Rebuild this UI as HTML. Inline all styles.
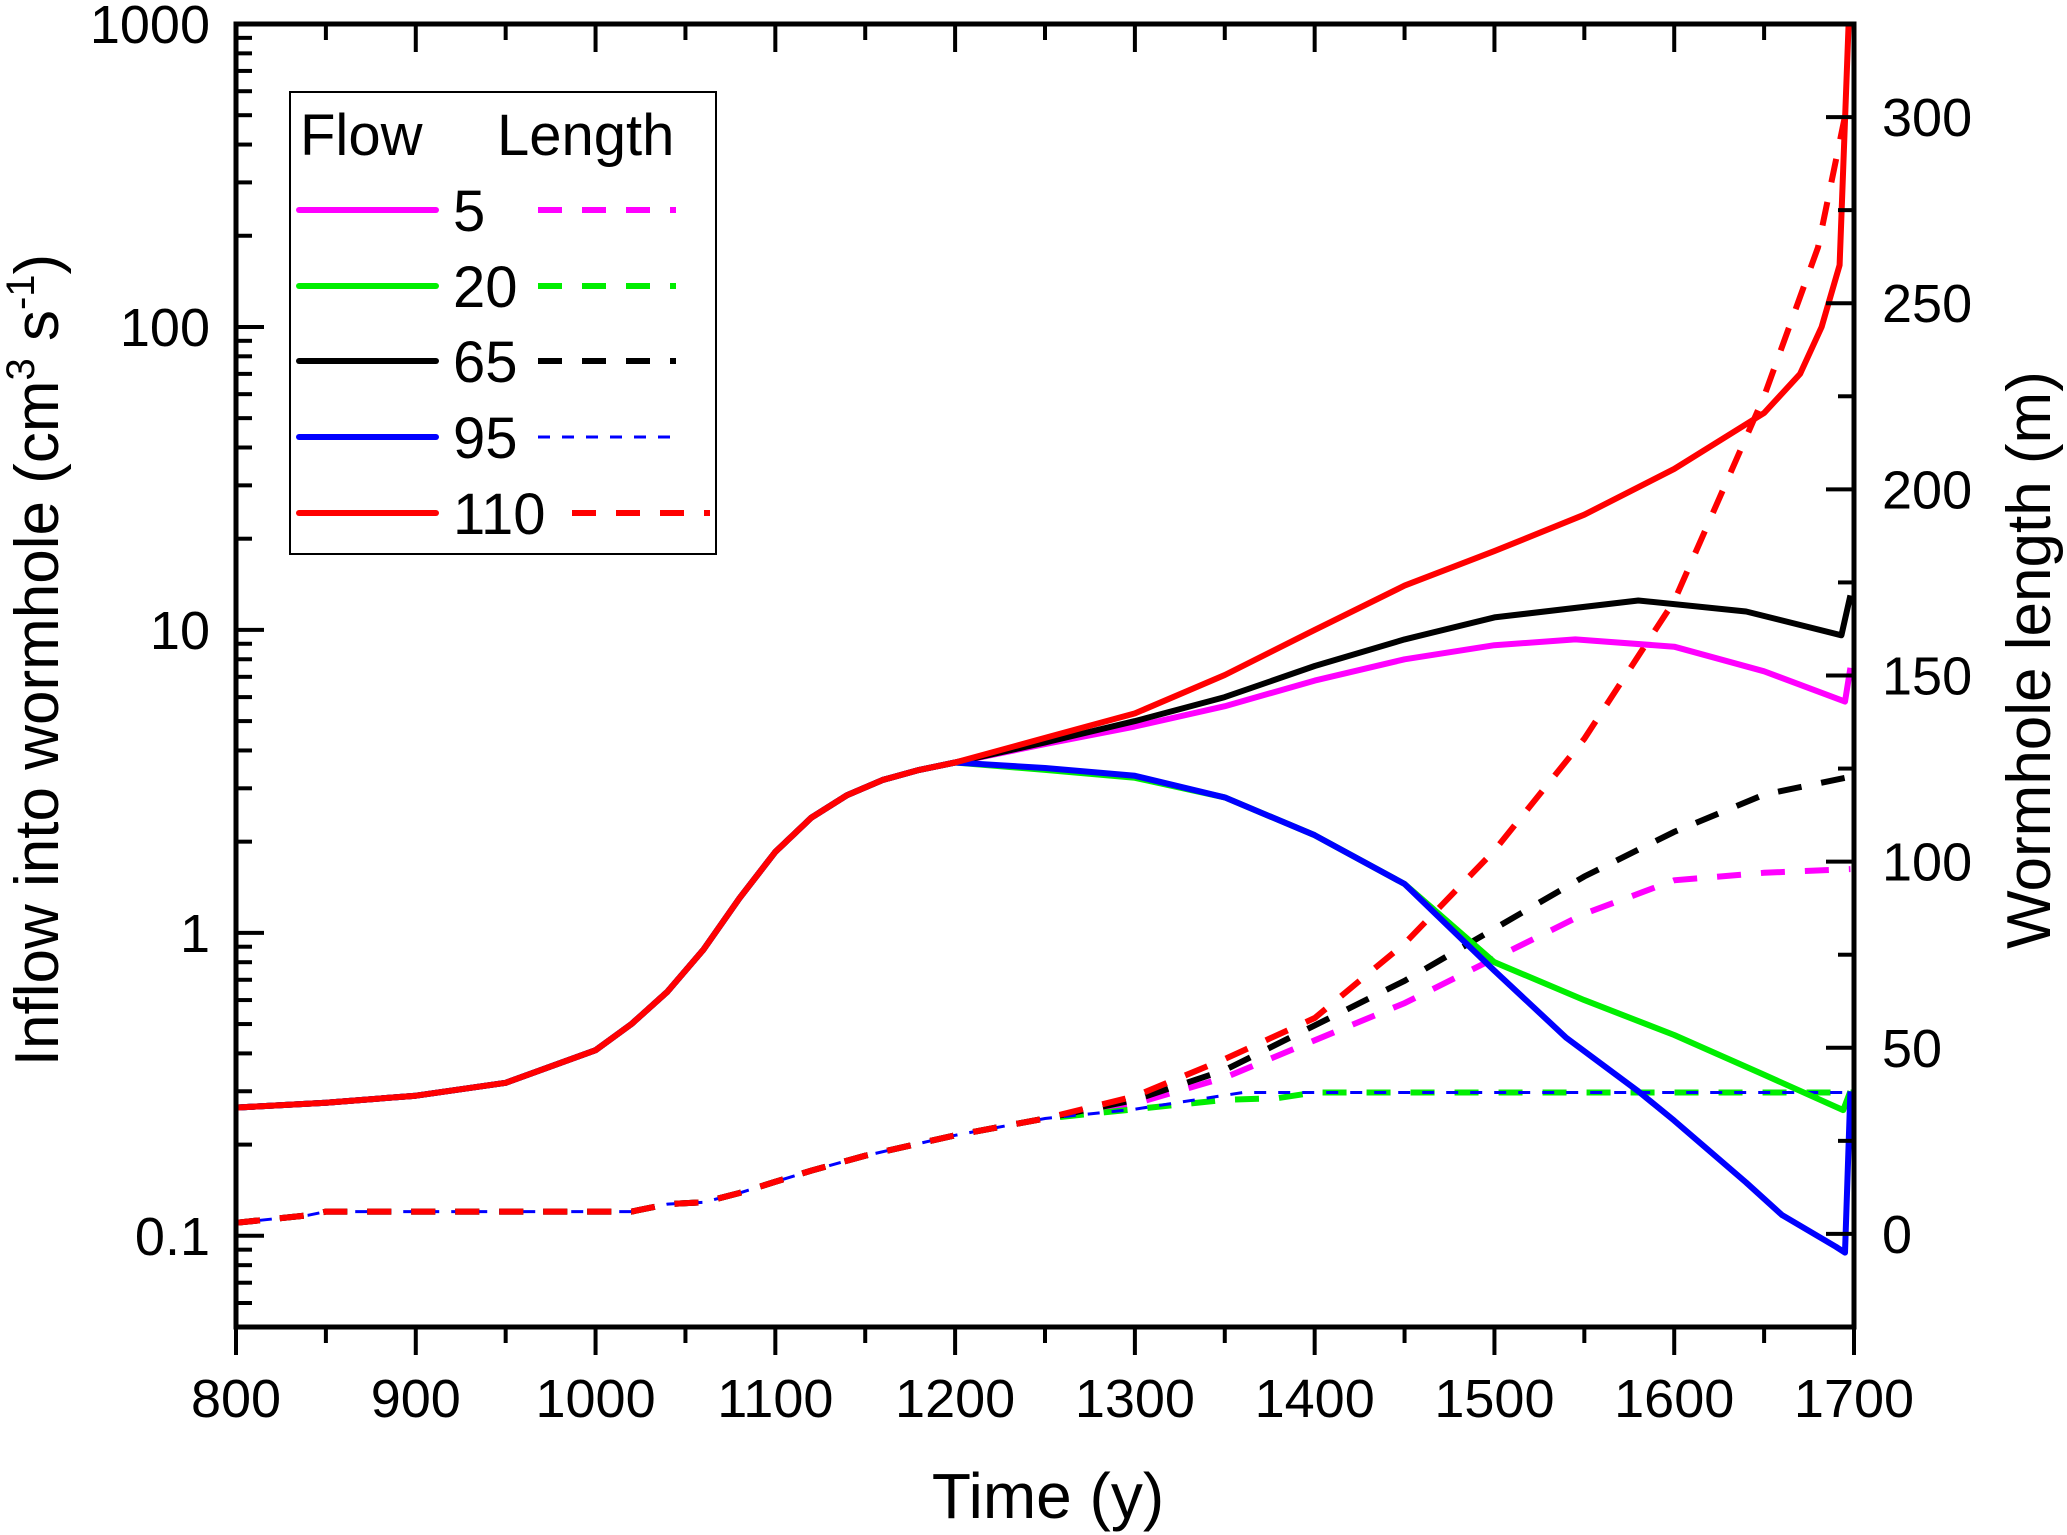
<!DOCTYPE html>
<html><head><meta charset="utf-8"><style>
html,body{margin:0;padding:0;background:#fff;}
svg{display:block;font-family:"Liberation Sans",Arial,sans-serif;}
</style></head><body>
<svg id="chart" width="2067" height="1535" viewBox="0 0 2067 1535" xmlns="http://www.w3.org/2000/svg">
<g id="marks"></g>
<g id="axes"></g>
<g id="legend"></g>
</svg>
<script>
const NS="http://www.w3.org/2000/svg";
const xTicks=[800,900,1000,1100,1200,1300,1400,1500,1600,1700];
const yLeftTicks=[0.1,1,10,100,1000];
const yLeftLabels=["0.1","1","10","100","1000"];
const yRightTicks=[0,50,100,150,200,250,300];
const seriesNames=["5","20","65","95","110"];
const seriesColors=["#ff00ff","#00ee00","#000000","#0000ff","#ff0000"];
// Flow (left axis, log)
const flowT_common=[800,850,900,950,1000,1020,1040,1060,1080,1100,1120,1140,1160,1180,1200];
const flowV_common=[0.265,0.275,0.29,0.32,0.41,0.5,0.64,0.88,1.3,1.85,2.4,2.85,3.2,3.45,3.65];
const flowT_5=[1250,1300,1350,1400,1450,1500,1545,1600,1650,1695,1698];
const flowV_5=[4.2,4.8,5.6,6.8,8.0,8.9,9.3,8.8,7.3,5.8,7.5];
const flowT_20=[1250,1300,1350,1400,1450,1500,1550,1600,1650,1694,1698];
const flowV_20=[3.45,3.25,2.8,2.1,1.45,0.8,0.6,0.46,0.34,0.26,0.3];
const flowT_65=[1250,1300,1350,1400,1450,1500,1580,1640,1693,1698];
const flowV_65=[4.25,5.0,6.0,7.6,9.3,11.0,12.5,11.5,9.6,13];
const flowT_95=[1250,1300,1350,1400,1450,1500,1540,1580,1600,1640,1660,1690,1695,1698];
const flowV_95=[3.5,3.3,2.8,2.1,1.45,0.75,0.45,0.3,0.24,0.15,0.117,0.092,0.088,0.3];
const flowT_110=[1250,1300,1350,1400,1450,1500,1550,1600,1650,1670,1682,1692,1697];
const flowV_110=[4.4,5.3,7.1,10,14,18.2,24,34,52,70,100,160,1000];
// Length (right axis)
const lenT_common=[800,840,850,900,1000,1020,1040,1060,1080,1100,1120,1150,1200,1250];
const lenV_common=[3,5,6,6,6,6,8,8.5,11,14,17,21,26.5,31];
const lenT_5=[1300,1350,1400,1450,1500,1550,1600,1650,1698];
const lenV_5=[35,42,52,62,74,86,95,97,98];
const lenT_20=[1300,1350,1380,1400,1700];
const lenV_20=[33.5,36,36.5,38,38];
const lenT_65=[1300,1350,1400,1450,1500,1550,1600,1650,1700];
const lenV_65=[36,44,56,68,82,96,108,118,123];
const lenT_95=[1300,1360,1700];
const lenV_95=[33.5,38,38];
const lenT_110=[1300,1350,1400,1450,1500,1550,1600,1650,1680,1697];
const lenV_110=[37,47,58,78,103,133,170,225,265,305];

const L=236,R=1854,T=24,B=1327;
const X=t=>L+(t-800)/900*(R-L);
const logMin=Math.log10(0.05),logMax=3;
const YL=v=>B-(Math.log10(v)-logMin)/(logMax-logMin)*(B-T);
const YR=v=>B-(v+25)/350*(B-T);

function el(tag,attrs,parent){const e=document.createElementNS(NS,tag);for(const k in attrs)e.setAttribute(k,attrs[k]);parent.appendChild(e);return e;}
const marks=document.getElementById('marks'),axes=document.getElementById('axes'),leg=document.getElementById('legend');

function poly(ts,vs,yf){return ts.map((t,i)=>X(t).toFixed(1)+","+yf(vs[i]).toFixed(1)).join(" ");}
const flowT=[flowT_5,flowT_20,flowT_65,flowT_95,flowT_110];
const flowV=[flowV_5,flowV_20,flowV_65,flowV_95,flowV_110];
const lenT=[lenT_5,lenT_20,lenT_65,lenT_95,lenT_110];
const lenV=[lenV_5,lenV_20,lenV_65,lenV_95,lenV_110];
const dashes=["24,20","24,20","24,20","12,12","24,20"];
const dashW=[6,6,6,3,6];
const order=[0,1,2,3,4];
order.forEach(i=>{
  const ts=lenT_common.concat(lenT[i]),vs=lenV_common.concat(lenV[i]);
  const p=el('polyline',{points:poly(ts,vs,YR),fill:'none',stroke:seriesColors[i],'stroke-width':dashW[i],'stroke-dasharray':dashes[i]},marks);
  
  
});
order.forEach(i=>{
  const ts=flowT_common.concat(flowT[i]),vs=flowV_common.concat(flowV[i]);
  const p=el('polyline',{points:poly(ts,vs,YL),fill:'none',stroke:seriesColors[i],'stroke-width':6,'stroke-linejoin':'round'},marks);
  
  
});
el('rect',{x:0,y:0,width:2067,height:T-2,fill:'#fff'},marks);

const fr=el('rect',{x:L,y:T,width:R-L,height:B-T,fill:'none',stroke:'#000','stroke-width':5},axes);


for(let t=800;t<=1700;t+=50){
  const major=t%100===0;
  el('line',{x1:X(t),x2:X(t),y1:B,y2:B+(major?28:16),stroke:'#000','stroke-width':4},axes);
  el('line',{x1:X(t),x2:X(t),y1:T,y2:T+(major?28:16),stroke:'#000','stroke-width':4},axes);
}
xTicks.forEach(t=>{const tx=el('text',{x:X(t),y:1417,'font-size':54,'text-anchor':'middle'},axes);tx.textContent=t;

});
for(let d=-2;d<=2;d++){for(let m=1;m<=9;m++){const v=m*Math.pow(10,d);if(v<0.05||v>1000)continue;
  el('line',{x1:L,x2:L+(m===1?28:16),y1:YL(v),y2:YL(v),stroke:'#000','stroke-width':4},axes);}}
el('line',{x1:L,x2:L+28,y1:YL(1000),y2:YL(1000),stroke:'#000','stroke-width':4},axes);
yLeftTicks.forEach((v,i)=>{const tx=el('text',{x:210,y:YL(v)+19,'font-size':54,'text-anchor':'end'},axes);tx.textContent=yLeftLabels[i];

});
for(let v=-25;v<=325;v+=25){const major=v%50===0;
  el('line',{x1:R,x2:R-(major?28:16),y1:YR(v),y2:YR(v),stroke:'#000','stroke-width':4},axes);}
yRightTicks.forEach(v=>{const tx=el('text',{x:1882,y:YR(v)+19,'font-size':54,'text-anchor':'start'},axes);tx.textContent=v;

});
const xt=el('text',{x:1048,y:1518,'font-size':64,'text-anchor':'middle'},axes);xt.textContent="Time (y)";


const yt=el('text',{x:0,y:0,'font-size':62,'text-anchor':'middle',transform:'translate(58,660) rotate(-90)'},axes);
yt.innerHTML='Inflow into wormhole (cm<tspan dy="-24" font-size="40">3</tspan><tspan dy="24"> s</tspan><tspan dy="-24" font-size="40">-1</tspan><tspan dy="24">)</tspan>';


const yr=el('text',{x:0,y:0,'font-size':62,'text-anchor':'middle',transform:'translate(2050,660) rotate(-90)'},axes);yr.textContent="Wormhole length (m)";



const box=el('rect',{x:290,y:92,width:426,height:462,fill:'#fff',stroke:'#000','stroke-width':2},leg);


const h1=el('text',{x:300,y:155,'font-size':58},leg);h1.textContent="Flow";


const h2=el('text',{x:497,y:155,'font-size':58},leg);h2.textContent="Length";


const rowsY=[210,286,361,437,513];
seriesNames.forEach((n,i)=>{
  const y=rowsY[i];
  const g=el('g',{},leg);
  
  
  el('line',{x1:299,x2:436,y1:y,y2:y,stroke:seriesColors[i],'stroke-width':6,'stroke-linecap':'round'},g);
  const t=el('text',{x:453,y:y+21,'font-size':58},g);t.textContent=n;
  const x0=i===4?572:538;
  el('line',{x1:x0,x2:x0+138,y1:y,y2:y,stroke:seriesColors[i],'stroke-width':i===3?3:6,'stroke-dasharray':i===3?'12,12':'24,20','stroke-linecap':'butt'},g);
});
</script>
</body></html>
